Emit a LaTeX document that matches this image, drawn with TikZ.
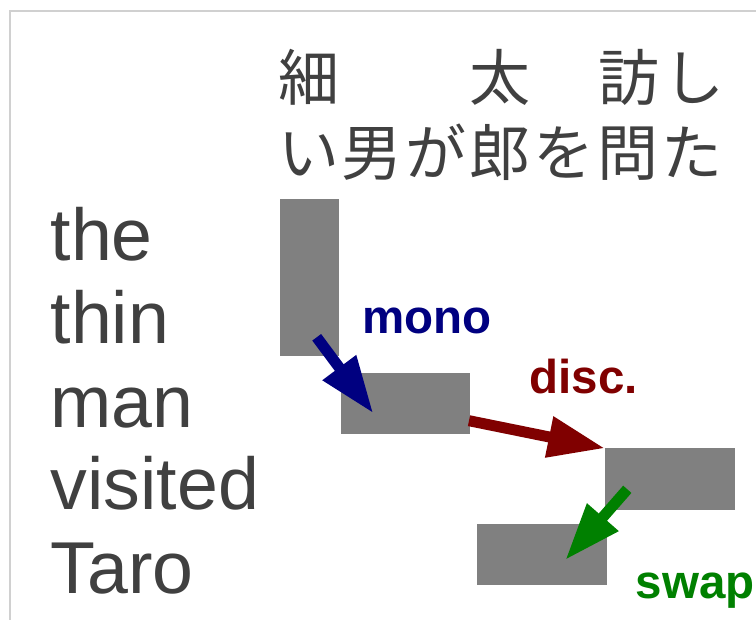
\documentclass[tikz,border=0pt]{standalone}
\usepackage{fontspec}
\setmainfont{Liberation Sans}
\newfontfamily\cjk{Noto Sans CJK JP}
\usetikzlibrary{arrows.meta}
\definecolor{txt}{HTML}{404040}
\definecolor{blk}{HTML}{808080}
\definecolor{frm}{HTML}{D0D0D0}
\definecolor{cnavy}{HTML}{000080}
\definecolor{cmaroon}{HTML}{800000}
\definecolor{cgreen}{HTML}{008000}
\tikzset{
  blockbox/.style={rectangle, fill=blk, draw=none, inner sep=0pt},
  enword/.style={anchor=base west, inner sep=0pt, text=txt, font=\fontsize{73.5}{73.5}\selectfont},
  jachar/.style={anchor=base, inner sep=0pt, text=txt, font=\cjk\fontsize{61}{61}\selectfont},
  oplabel/.style={anchor=base west, inner sep=0pt, font=\bfseries\fontsize{47.5}{47.5}\selectfont},
  bigarrow/.style={line width=11pt, -{Triangle[length=57pt,width=39pt]}},
}
\begin{document}
\begin{tikzpicture}[x=1pt,y=-1pt]
\useasboundingbox (0,0) rectangle (756,620);
\fill[white] (0,0) rectangle (756,620);
% frame
\draw[frm, line width=1.5pt] (10,620) -- (10,11) -- (756,11);
% Japanese
\node[jachar] (j1a) at (308.5,101) {細};
\node[jachar] (j4a) at (500,101) {太};
\node[jachar] (j6a) at (629,101) {訪};
\node[jachar] (j7a) at (694,101) {し};
\node[jachar] (j1) at (308.5,176) {い};
\node[jachar] (j2) at (372,176) {男};
\node[jachar] (j3) at (436,176) {が};
\node[jachar] (j4) at (500,176) {郎};
\node[jachar] (j5) at (564,176) {を};
\node[jachar] (j6) at (628,176) {問};
\node[jachar] (j7) at (692,176) {た};
% English
\node[enword] (e1) at (50.5,260.7) {the};
\node[enword] (e2) at (50.5,343.3) {thin};
\node[enword] (e3) at (50.5,427.3) {man};
\node[enword] (e4) at (50.5,510) {visited};
\node[enword] (e5) at (50.5,593.3) {Taro};
% blocks
\node[blockbox, minimum width=58.2pt, minimum height=157.5pt] (b1) at (309.4,277.75) {};
\node[blockbox, minimum width=129.6pt, minimum height=61.3pt] (b2) at (405.5,403.35) {};
\node[blockbox, minimum width=130pt, minimum height=61.4pt] (b3) at (670.3,479) {};
\node[blockbox, minimum width=130pt, minimum height=61.3pt] (b4) at (542,554.7) {};
% arrow ends
\coordinate (a1s) at (316.7,337.3);
\coordinate (a1e) at (373.3,413.3);
\coordinate (a2s) at (469,420.7);
\coordinate (a2e) at (605,448.3);
\coordinate (a3s) at (627.3,489.3);
\coordinate (a3e) at (565.3,560);
\draw[bigarrow, cnavy] (a1s) -- (a1e);
\draw[bigarrow, cmaroon] (a2s) -- (a2e);
\draw[bigarrow, cgreen] (a3s) -- (a3e);
% labels
\node[oplabel, text=cnavy] (lmono) at (362.5,333.3) {mono};
\node[oplabel, text=cmaroon] (ldisc) at (529.5,393.3) {disc.};
\node[oplabel, text=cgreen] (lswap) at (635.5,598.3) {swap};
\end{tikzpicture}
\end{document}
